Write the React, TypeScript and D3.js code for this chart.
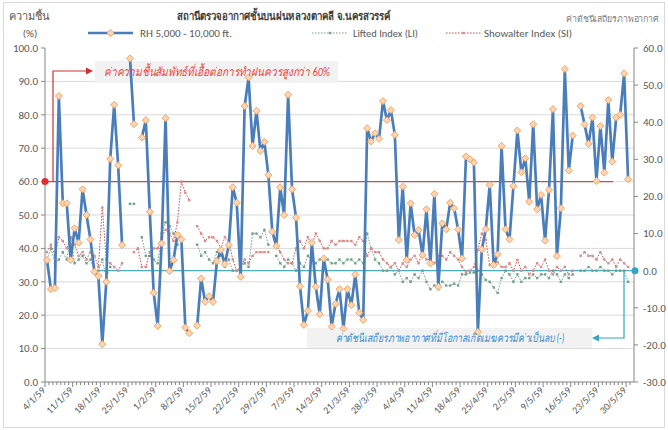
import React from "react";
import * as d3 from "d3";

const startDate = new Date(2016, 0, 4);
const endDate = new Date(2016, 5, 1);
const categories = d3.timeDay.range(startDate, endDate).map((d) => `${d.getDate()}/${d.getMonth() + 1}/59`);
const tickLabels = ["4/1/59","11/1/59","18/1/59","25/1/59","1/2/59","8/2/59","15/2/59","22/2/59","29/2/59","7/3/59","14/3/59","21/3/59","28/3/59","4/4/59","11/4/59","18/4/59","25/4/59","2/5/59","9/5/59","16/5/59","23/5/59","30/5/59"];
const leftTicks = [0,10,20,30,40,50,60,70,80,90,100];
const rightTicks = [-30,-20,-10,0,10,20,30,40,50,60];

const rh: (number | null)[] = [
36.5,27.8,28.1,85.6,53.5,53.5,36.5,46,41.7,57.7,
50,42.7,33,31.7,11.3,30,66.8,83,64.9,41,
null,96.9,77.2,null,73.2,78.4,51,26.7,16.8,41.5,
79,33.2,36.5,44,42.7,16.3,14.6,null,16.9,31,
24,25.7,24,36.2,39.5,35.3,41,58.3,53.7,31.5,
82.6,91.2,70.7,81.2,69.2,71.9,62,45,40.7,58.3,
50,86,57.7,49.2,28.7,17.1,21.3,41.7,28.5,20.3,
37,30.7,16.6,23.4,27.8,16,27.8,23,32.2,20.7,
18.6,76,72,74.5,72.8,84.1,78.4,81.4,74,42.5,
58.5,36.5,53.5,44,45.5,38,51.7,35.5,56.3,28.5,
47.5,45.7,53.7,52,45.7,37,67.5,66.7,65.7,15,
39.7,45.7,59,35,38.2,70.7,45.7,42.7,58.7,75.3,
62.8,67,54,77.2,51.7,56,42.3,57.5,81.7,37.7,
52,93.7,63.3,73.8,null,82.6,77.1,71.3,79.2,60.2,
76.6,62.7,84.4,66,79.2,80,92.4,60.7,null
];

const li: (number | null)[] = [
3,6,2,3,5,3,9,2,3,4,
2,3,0,0,3,-2,1,null,null,null,
null,18,18,null,9,4,4,3,2,10,
13,12,10,7,null,null,null,null,7,4,
5,3,2,5,4,1,3,0,0,1,
2,1,10,10,9,11,7,null,4,2,
1,3,2,0,2,1,4,3,2,3,
3,3,2,2,3,2,3,3,2,3,
2,10,6,3,2,0,0,1,-1,0,
-3,-2,-3,-1,-2,0,-3,-5,-4,-5,
-3,-4,-4,-3.5,-4,-1,-1,-0.5,-0.5,0,
-1,-2.5,-3,-4.5,-6,-2,0,-1,-3,-1,
-3,-2,-2,-1,-2,-1,-1,-2,0,-1,
-3,-1,-2,-1,null,0,0,1,0,0,
1,0,0,-1,0,0,0,-3,null
];

const si: (number | null)[] = [
5,7,4,9,8,6,9,7,4,5,
3,5,4,1,17,3,2,1,0,2,
null,null,5,6,1,1,5,6,6,9,
11,10,8,13,24,21,19,null,12,10,
8,9,9,8,6,9,8,3,0,1,
3,2,4,5,5,5,5,null,7,5,
3,2,2,6,8,6,9,7,10,8,
6,6,8,7,8,8,8,8,7,9,
8,4,6,5,5,3,2,1,2,0,
2,1,3,4,2,5,3,3,2,4,
4,3,5,4,3,1,-0.3,0,1,5.6,
10,8.3,1.5,2,2.3,1,1,2,0,2.9,
0,1,-1,0,2,1,3,0,-1,1,
0,1,-1,0,null,4,5,4,4,3,
5,3,2,3,1,3,2,1,null
];

const FONT = "Calibri, Carlito, 'Open Sans', 'Noto Sans', 'DejaVu Sans', sans-serif";
const TEXT = "#595959";

function Diamond({ x, y, r, fill, stroke }: { x: number; y: number; r: number; fill: string; stroke: string }) {
  return <path d={`M${x},${y - r}L${x + r},${y}L${x},${y + r}L${x - r},${y}Z`} fill={fill} stroke={stroke} strokeWidth={1} />;
}

export default function App() {
  const W = 668, H = 430;
  const L = 45, R = 634, T = 48, B = 382;
  const x = d3.scaleBand<number>().domain(d3.range(categories.length)).range([L, R]).paddingInner(0).paddingOuter(0);
  const bw = x.bandwidth();
  const cx = (i: number) => (x(i) as number) + bw / 2;
  const yL = d3.scaleLinear().domain([0, 100]).range([B, T]);
  const yR = d3.scaleLinear().domain([-30, 60]).range([B, T]);

  const lineL = d3.line<number | null>().defined((d) => d != null).x((_, i) => cx(i)).y((d) => yL(d as number));
  const lineR = d3.line<number | null>().defined((d) => d != null).x((_, i) => cx(i)).y((d) => yR(d as number));

  const tickIdx = tickLabels.map((t) => categories.indexOf(t));

  const rhBlue = "#4A7EBB";
  const mFill = "#FCD5B4";
  const mStroke = "#F4A460";
  const liColor = "#6FA287";
  const siColor = "#C0504D";

  return (
    <svg width={W} height={H} style={{ position: "absolute", left: 0, top: 0, fontFamily: FONT }}>
      <rect x={0} y={0} width={W} height={H} fill="#fff" />
      <rect x={3.5} y={2.5} width={W - 7} height={H - 5} fill="none" stroke="#D9D9D9" />

      {leftTicks.filter((t) => t > 0 && t < 100).map((t) => (
        <line key={t} x1={L} x2={R} y1={yL(t)} y2={yL(t)} stroke="#D9D9D9" strokeWidth={1} />
      ))}

      <rect x={95} y={61} width={243} height={22} fill="#F2F2F2" />
      <rect x={307} y={328} width={285} height={20} fill="#F2F2F2" />

      <line x1={L} x2={L} y1={T} y2={B} stroke="#868686" />
      <line x1={R} x2={R} y1={T} y2={B} stroke="#868686" />
      <line x1={L} x2={R} y1={B} y2={B} stroke="#868686" />
      {leftTicks.map((t) => (
        <g key={t}>
          <line x1={L - 4} x2={L} y1={yL(t)} y2={yL(t)} stroke="#868686" />
          <text x={L - 7} y={yL(t)} dy="0.35em" textAnchor="end" fontSize={11} fill={TEXT}>{t.toFixed(1)}</text>
        </g>
      ))}
      {rightTicks.map((t) => (
        <g key={t}>
          <line x1={R} x2={R + 4} y1={yR(t)} y2={yR(t)} stroke="#868686" />
          <text x={R + 9} y={yR(t)} dy="0.35em" textAnchor="start" fontSize={11} fill={TEXT}>{t.toFixed(1)}</text>
        </g>
      ))}
      {categories.map((c, i) => (
        <line key={c} x1={(x(i) as number)} x2={(x(i) as number)} y1={B} y2={B + (i % 7 === 0 ? 5 : 3)} stroke="#868686" />
      ))}
      {tickLabels.map((t, k) => (
        <text key={t} transform={`translate(${cx(tickIdx[k]) - 1},${B + 9}) rotate(-45)`} textAnchor="end" fontSize={10} fill={TEXT}>{t}</text>
      ))}

      <line x1={L} x2={613} y1={yL(60)} y2={yL(60)} stroke="#C0504D" strokeWidth={1.2} />
      <circle cx={L} cy={yL(60)} r={3.5} fill="#E03030" />
      <path d={`M53,${yL(60)}V71H88`} fill="none" stroke="#D03030" strokeWidth={1.2} />
      <path d="M86,67.5L93,71L86,74.5Z" fill="#D03030" />
      <line x1={95} x2={R} y1={yR(0)} y2={yR(0)} stroke="#4BACC6" strokeWidth={1.2} />
      <circle cx={R + 1} cy={yR(0)} r={3.5} fill="#31A4C8" />
      <path d={`M624,${yR(0)}V338H597`} fill="none" stroke="#31A4C8" strokeWidth={1.2} />
      <path d="M599,334.5L592,338L599,341.5Z" fill="#31A4C8" />

      <path d={lineR(li) || ""} fill="none" stroke={liColor} strokeWidth={1} strokeDasharray="1.5,1.5" />
      {li.map((v, i) => v == null ? null : <rect key={i} x={cx(i) - 1.2} y={yR(v) - 1.2} width={2.4} height={2.4} fill={liColor} />)}
      <path d={lineR(si) || ""} fill="none" stroke={siColor} strokeWidth={1} strokeDasharray="1.5,1.5" />
      {si.map((v, i) => v == null ? null : <rect key={i} x={cx(i) - 1.2} y={yR(v) - 1.2} width={2.4} height={2.4} fill="#D98C8A" />)}
      <path d={lineL(rh) || ""} fill="none" stroke={rhBlue} strokeWidth={2.7} strokeLinejoin="round" />
      {rh.map((v, i) => v == null ? null : <Diamond key={i} x={cx(i)} y={yL(v)} r={3.5} fill={mFill} stroke={mStroke} />)}

      <text x={217} y={76} textAnchor="middle" fontSize={12} fontStyle="italic" fill="#E8413C" textLength={226} lengthAdjust="spacingAndGlyphs">ค่าความชื้นสัมพัทธ์ที่เอื้อต่อการทำฝนควรสูงกว่า 60%</text>
      <text x={450} y={342} textAnchor="middle" fontSize={11.5} fontStyle="italic" fill="#3A8FD0" textLength={229} lengthAdjust="spacingAndGlyphs">ค่าดัชนีเสถียรภาพอากาศที่มีโอกาสเกิดเมฆควรมีค่าเป็นลบ (-)</text>

      <text x={284} y={20} textAnchor="middle" fontSize={11.5} fontWeight="bold" fill="#404040" textLength={214} lengthAdjust="spacingAndGlyphs">สถานีตรวจอากาศชั้นบนฝนหลวงตาคลี  จ.นครสวรรค์</text>
      <text x={29} y={20} textAnchor="middle" fontSize={11} fill={TEXT}>ความชื้น</text>
      <text x={30} y={37} textAnchor="middle" fontSize={11} fill={TEXT}>(%)</text>
      <text x={566} y={22} textAnchor="start" fontSize={9} fill="#7F7F7F" textLength={93} lengthAdjust="spacingAndGlyphs">ค่าดัชนีเสถียรภาพอากาศ</text>

      <g fontSize={10.5} fill={TEXT}>
        <line x1={88} x2={133} y1={33} y2={33} stroke={rhBlue} strokeWidth={2.5} />
        <Diamond x={110.5} y={33} r={3.5} fill={mFill} stroke={mStroke} />
        <text x={140} y={33} dy="0.35em" textLength={92} lengthAdjust="spacingAndGlyphs">RH 5,000 - 10,000 ft.</text>
        <line x1={312} x2={348} y1={33} y2={33} stroke={liColor} strokeWidth={1} strokeDasharray="1.5,1.5" />
        <rect x={328.8} y={31.8} width={2.4} height={2.4} fill={liColor} />
        <text x={353} y={33} dy="0.35em" textLength={65} lengthAdjust="spacingAndGlyphs">Lifted Index (LI)</text>
        <line x1={446} x2={481} y1={33} y2={33} stroke={siColor} strokeWidth={1} strokeDasharray="1.5,1.5" />
        <rect x={462.3} y={31.8} width={2.4} height={2.4} fill="#D98C8A" />
        <text x={484} y={33} dy="0.35em" textLength={88} lengthAdjust="spacingAndGlyphs">Showalter Index (SI)</text>
      </g>
    </svg>
  );
}
